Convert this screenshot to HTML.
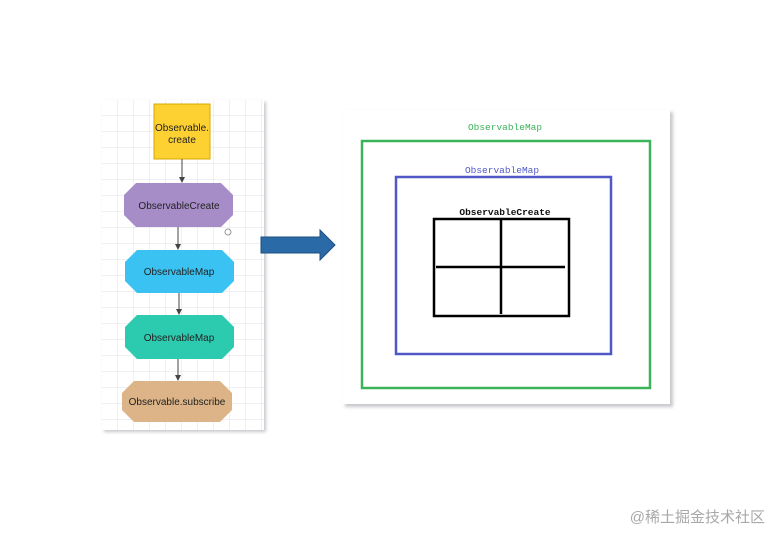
<!DOCTYPE html>
<html><head><meta charset="utf-8"><style>
html,body{margin:0;padding:0;background:#fff;width:782px;height:542px;overflow:hidden}
</style></head><body>
<svg width="782" height="542" viewBox="0 0 782 542" xmlns="http://www.w3.org/2000/svg">
<defs>
<pattern id="g" width="16" height="16" patternUnits="userSpaceOnUse" x="102" y="100">
<path d="M16 0V16M0 16H16" stroke="#e0e0e6" stroke-width="1" fill="none"/>
</pattern>
<marker id="a" markerWidth="6" markerHeight="6" refX="3" refY="3" orient="auto"><path d="M0,0L6,3L0,6z" fill="#444"/></marker>
<filter id="s" x="-5%" y="-5%" width="112%" height="112%"><feGaussianBlur stdDeviation="1.5"/></filter>
</defs>
<!-- left panel -->
<rect x="104" y="102" width="162" height="330" fill="#c8c8cc" filter="url(#s)"/>
<rect x="102" y="100" width="162" height="330" fill="#fff"/>
<rect x="102" y="100" width="162" height="330" fill="url(#g)"/>
<g font-family="Liberation Sans, sans-serif" font-size="10" fill="#222" text-anchor="middle">
<rect x="154" y="104" width="56" height="55" fill="#fdd131" stroke="#d9a800"/>
<text x="182" y="131">Observable.</text><text x="182" y="143">create</text>
<line x1="182" y1="159" x2="182" y2="180" stroke="#444" marker-end="url(#a)"/>
<polygon points="136,183 221,183 233,195 233,215 221,227 136,227 124,215 124,195" fill="#a78dc8"/>
<text x="179" y="209">ObservableCreate</text>
<circle cx="228" cy="232" r="3" fill="none" stroke="#999"/>
<line x1="178" y1="227" x2="178" y2="247" stroke="#444" marker-end="url(#a)"/>
<polygon points="137,250 222,250 234,262 234,281 222,293 137,293 125,281 125,262" fill="#3ac3f2"/>
<text x="179" y="275">ObservableMap</text>
<line x1="179" y1="293" x2="179" y2="312" stroke="#444" marker-end="url(#a)"/>
<polygon points="137,315 222,315 234,327 234,347 222,359 137,359 125,347 125,327" fill="#2ccbb0"/>
<text x="179" y="341">ObservableMap</text>
<line x1="178" y1="359" x2="178" y2="378" stroke="#444" marker-end="url(#a)"/>
<polygon points="134,381 220,381 232,393 232,410 220,422 134,422 122,410 122,393" fill="#dcb487"/>
<text x="177" y="405">Observable.subscribe</text>
</g>
<!-- big arrow -->
<polygon points="261,237 320,237 320,230 335,245 320,260 320,253 261,253" fill="#2a6aa6" stroke="#1d4f80"/>
<!-- right panel -->
<rect x="345" y="112" width="328" height="295" fill="#c8c8cc" filter="url(#s)"/>
<rect x="343" y="110" width="327" height="294" fill="#fff"/>
<g font-family="Liberation Mono, monospace" font-size="9.5" text-anchor="middle">
<text x="505" y="130" fill="#3bb35a">ObservableMap</text>
<rect x="362" y="141" width="288" height="247" fill="none" stroke="#3bb35a" stroke-width="2.5"/>
<text x="502" y="173" fill="#5058c8">ObservableMap</text>
<rect x="396" y="177" width="215" height="177" fill="none" stroke="#5058c8" stroke-width="2.5"/>
<text x="505" y="215" fill="#111" font-weight="bold">ObservableCreate</text>
<rect x="434" y="219" width="135" height="97" fill="none" stroke="#000" stroke-width="2.5"/>
<line x1="501" y1="219" x2="501" y2="314" stroke="#000" stroke-width="2.5"/>
<line x1="436" y1="267" x2="565" y2="267" stroke="#000" stroke-width="2.5"/>
</g>
<text x="765" y="522" text-anchor="end" font-family="Liberation Sans, Noto Sans CJK SC, sans-serif" font-size="15" fill="#a8a8a8">@稀土掘金技术社区</text>
</svg>
</body></html>
